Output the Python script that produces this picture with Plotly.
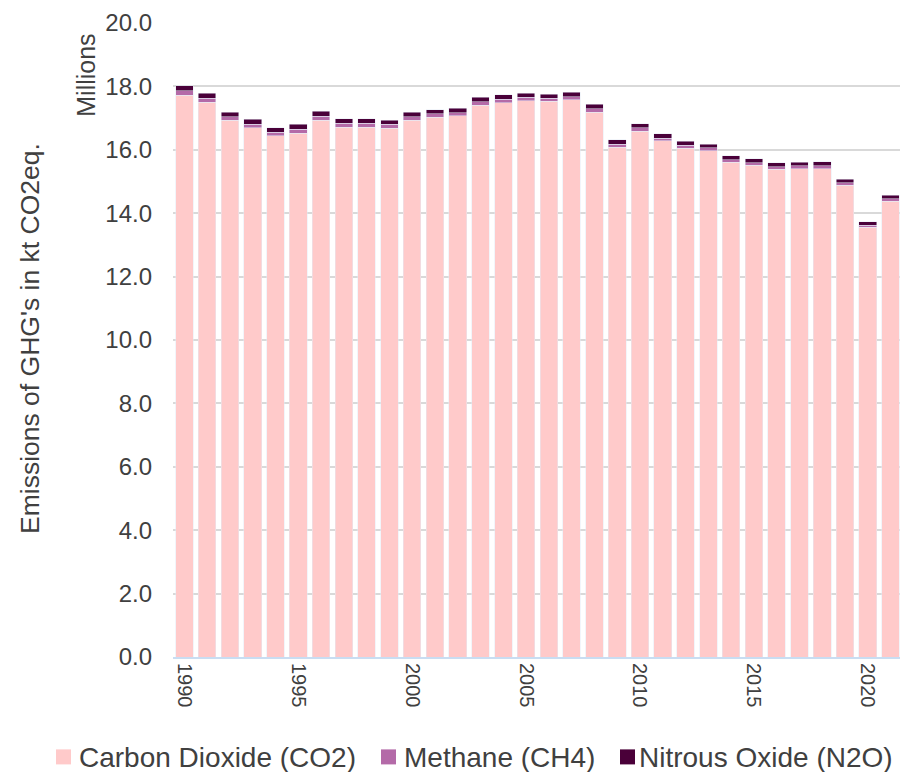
import plotly.graph_objects as go

years = [str(y) for y in range(1990, 2022)]
co2 = [17.72, 17.50, 16.93, 16.69, 16.45, 16.53, 16.94, 16.71, 16.71, 16.68,
       16.93, 17.03, 17.07, 17.41, 17.49, 17.55, 17.53, 17.58, 17.18, 16.08,
       16.59, 16.28, 16.05, 15.97, 15.60, 15.51, 15.39, 15.40, 15.40, 14.88,
       13.55, 14.38]
ch4 = [0.15, 0.13, 0.11, 0.12, 0.11, 0.12, 0.12, 0.12, 0.12, 0.12,
       0.11, 0.10, 0.10, 0.10, 0.11, 0.10, 0.10, 0.10, 0.11, 0.10,
       0.10, 0.09, 0.09, 0.09, 0.09, 0.08, 0.08, 0.09, 0.09, 0.08,
       0.07, 0.08]
n2o = [0.15, 0.15, 0.14, 0.15, 0.14, 0.15, 0.15, 0.15, 0.15, 0.14,
       0.14, 0.14, 0.14, 0.14, 0.14, 0.13, 0.13, 0.13, 0.14, 0.13,
       0.13, 0.13, 0.13, 0.12, 0.12, 0.12, 0.12, 0.12, 0.13, 0.11,
       0.11, 0.11]
tick_years = ["1990", "1995", "2000", "2005", "2010", "2015", "2020"]
series_names = ["Carbon Dioxide (CO2)", "Methane (CH4)", "Nitrous Oxide (N2O)"]
series_colors = ["#FFCACA", "#B46AA8", "#4A0039"]

FONT = "Liberation Sans, Arial, sans-serif"
TXT = "#404040"

# plot area in page pixels
PX0, PX1, PY0, PY1 = 173, 900, 23.3, 656.7
FIG_W, FIG_H = 900, 772


def px(x):
    return (x - PX0) / (PX1 - PX0)


def py(y):
    return (PY1 - y) / (PY1 - PY0)


fig = go.Figure()
for name, vals, col in zip(series_names, [co2, ch4, n2o], series_colors):
    fig.add_bar(x=years, y=vals, name=name, marker_color=col, showlegend=False)

# manual legend (square + text) at the bottom
leg_sq_x = [56, 381, 620]
leg_tx_x = [77, 402, 637]
shapes = []
annotations = []
for name, col, sx, tx in zip(series_names, series_colors, leg_sq_x, leg_tx_x):
    shapes.append(dict(type="rect", xref="paper", yref="paper",
                       x0=px(sx), x1=px(sx + 15), y0=py(764), y1=py(749),
                       fillcolor=col, line=dict(width=0)))
    annotations.append(dict(text=name, xref="paper", yref="paper", x=px(tx), y=py(757),
                            xanchor="left", yanchor="middle", showarrow=False,
                            font=dict(size=28, color=TXT)))

annotations += [
    dict(text="Emissions of GHG's in kt CO2eq.", xref="paper", yref="paper",
         x=px(30), y=py(339), textangle=-90, showarrow=False,
         font=dict(size=26.5, color=TXT), xanchor="center", yanchor="middle"),
    dict(text="Millions", xref="paper", yref="paper",
         x=px(86), y=py(76), textangle=-90, showarrow=False,
         font=dict(size=25, color=TXT), xanchor="center", yanchor="middle"),
]

fig.update_layout(
    width=FIG_W, height=FIG_H,
    barmode="stack", bargap=0.227,
    plot_bgcolor="white", paper_bgcolor="white",
    margin=dict(l=PX0, r=FIG_W - PX1, t=PY0, b=FIG_H - PY1),
    font=dict(family=FONT, color=TXT, size=20),
    showlegend=False,
    xaxis=dict(range=[-0.5, -0.5 + (PX1 - PX0) / 22.78], tickmode="array",
               tickvals=tick_years, ticktext=tick_years,
               tickangle=90, showline=True, linecolor="#C9DDF2", linewidth=2,
               showgrid=False, ticks="", tickfont=dict(size=20, color=TXT)),
    yaxis=dict(range=[0, 20], dtick=2, tickformat=".1f", showgrid=True, gridcolor="#D9D9D9",
               gridwidth=1.5, zeroline=False, ticks="", ticklabelstandoff=20,
               tickfont=dict(size=24, color=TXT)),
    shapes=shapes,
    annotations=annotations,
)

fig.write_html("out.html", config={"displayModeBar": False},
               post_script="document.body.style.margin='0';document.body.style.overflow='hidden';")
